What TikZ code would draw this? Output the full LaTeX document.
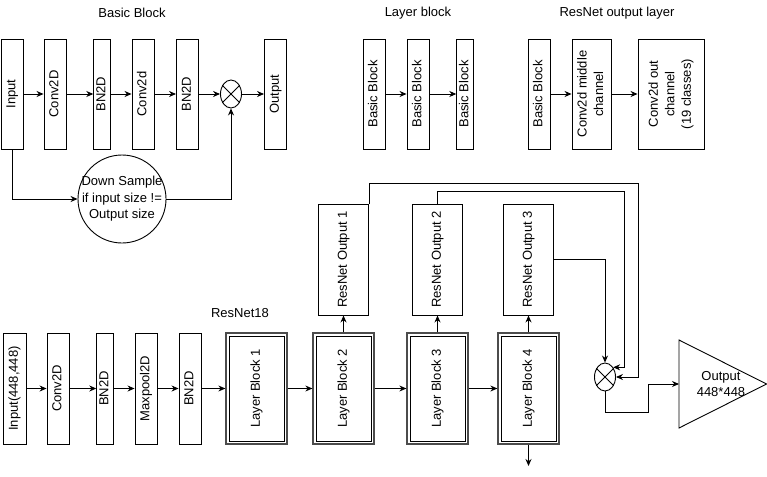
\documentclass[tikz,border=0pt]{standalone}
\usepackage{fontspec}
\setmainfont{Liberation Sans}
\usetikzlibrary{arrows.meta,shapes.geometric}
\newcommand\vtext[1]{\rotatebox{90}{\begin{tabular}{@{}c@{}}#1\end{tabular}}}
\begin{document}
\begin{tikzpicture}[x=1pt,y=-1pt,
 font=\fontsize{13}{16.5}\selectfont,
 box/.style={draw, line width=0.9pt, inner sep=0pt, minimum height=110pt},
 dbox/.style={draw=black!70, line width=1.3pt, inner sep=0pt, minimum width=61pt, minimum height=111pt,
   path picture={\draw[black, line width=0.9pt] ([shift={(3pt,-3pt)}]path picture bounding box.north west) rectangle ([shift={(-3pt,3pt)}]path picture bounding box.south east);}},
 arr/.style={-{Stealth[length=7pt,width=6pt]}, line width=0.9pt},
 ln/.style={line width=0.9pt},
 xmul/.style={draw, ellipse, line width=0.9pt, minimum width=21pt, minimum height=28pt, inner sep=0pt},
 ttl/.style={inner sep=0pt}
]
\useasboundingbox (0,0) rectangle (767,476);

% ---------- Basic Block ----------
\node[ttl] (tb) at (132,13) {Basic Block};
\node[box, minimum width=22pt] (bin) at (12,94) {\vtext{Input}};
\node[box, minimum width=22pt] (bc1) at (55,94) {\vtext{Conv2D}};
\node[box, minimum width=16pt] (bb1) at (102,94) {\vtext{BN2D}};
\node[box, minimum width=22pt] (bc2) at (143,94) {\vtext{Conv2d}};
\node[box, minimum width=22pt] (bb2) at (187.5,94) {\vtext{BN2D}};
\node[xmul] (x1) at (231,94) {};
\draw[ln] (x1.45) -- (x1.225) (x1.135) -- (x1.315);
\node[box, minimum width=22pt] (bout) at (275.5,94) {\vtext{Output}};
\node[draw, circle, line width=0.9pt, minimum size=88pt, inner sep=0pt] (ds) at (122,199) {};
\node[align=center, inner sep=0pt] (dst) at (ds) {Down Sample\\if input size !=\\Output size};

\draw[arr] (bin) -- (bc1);
\draw[arr] (bc1) -- (bb1);
\draw[arr] (bb1) -- (bc2);
\draw[arr] (bc2) -- (bb2);
\draw[arr] (bb2) -- (x1);
\draw[arr] (x1) -- (bout);
\draw[arr] (bin.south) |- (ds.west);
\draw[arr] (ds.east) -| (x1.south);

% ---------- Layer block ----------
\node[ttl] (tl) at (418,13) {Layer block};
\node[box, minimum width=22pt] (l1) at (374,94) {\vtext{Basic Block}};
\node[box, minimum width=22pt] (l2) at (418,94) {\vtext{Basic Block}};
\node[box, minimum width=16pt] (l3) at (465,94) {\vtext{Basic Block}};
\draw[arr] (l1) -- (l2);
\draw[arr] (l2) -- (l3);

% ---------- ResNet output layer ----------
\node[ttl] (to) at (617,13) {ResNet output layer};
\node[box, minimum width=22pt] (o1) at (539,94) {\vtext{Basic Block}};
\node[box, minimum width=39pt] (o2) at (591.5,94) {\vtext{Conv2d middle\\channel}};
\node[box, minimum width=66pt] (o3) at (671,94) {\vtext{Conv2d out\\channel\\(19 classes)}};
\draw[arr] (o1) -- (o2);
\draw[arr] (o2) -- (o3);

% ---------- ResNet18 ----------
\node[ttl] (tr) at (240,313) {ResNet18};
\node[box, minimum width=23pt, minimum height=111pt] (r0) at (14.5,388.5) {\vtext{Input(448,448)}};
\node[box, minimum width=22pt, minimum height=111pt] (r1) at (58,388.5) {\vtext{Conv2D}};
\node[box, minimum width=16pt, minimum height=111pt] (r2) at (105,388.5) {\vtext{BN2D}};
\node[box, minimum width=22pt, minimum height=111pt] (r3) at (146,388.5) {\vtext{Maxpool2D}};
\node[box, minimum width=22pt, minimum height=111pt] (r4) at (190,388.5) {\vtext{BN2D}};
\node[dbox] (lb1) at (256.5,388.5) {\vtext{Layer Block 1}};
\node[dbox] (lb2) at (343.5,388.5) {\vtext{Layer Block 2}};
\node[dbox] (lb3) at (437.5,388.5) {\vtext{Layer Block 3}};
\node[dbox] (lb4) at (528.5,388.5) {\vtext{Layer Block 4}};
\node[box, minimum width=50pt, minimum height=111pt] (ro1) at (343.5,259.5) {\vtext{ResNet Output 1}};
\node[box, minimum width=50pt, minimum height=111pt] (ro2) at (437.5,259.5) {\vtext{ResNet Output 2}};
\node[box, minimum width=50pt, minimum height=111pt] (ro3) at (528.5,259.5) {\vtext{ResNet Output 3}};
\node[xmul] (x2) at (605,377) {};
\draw[ln] (x2.45) -- (x2.225) (x2.135) -- (x2.315);

\draw[arr] (r0) -- (r1);
\draw[arr] (r1) -- (r2);
\draw[arr] (r2) -- (r3);
\draw[arr] (r3) -- (r4);
\draw[arr] (r4) -- (lb1);
\draw[arr] (lb1) -- (lb2);
\draw[arr] (lb2) -- (lb3);
\draw[arr] (lb3) -- (lb4);
\draw[arr] (lb2) -- (ro1);
\draw[arr] (lb3) -- (ro2);
\draw[arr] (lb4) -- (ro3);
\coordinate (dn) at (528.5,466);
\draw[arr] (lb4) -- (dn);

\coordinate (k1) at (638,183);
\coordinate (k2) at (624,191);
\coordinate (k3) at (648,412);
\coordinate (triw) at (679,384);
\draw[arr] (ro1.north east) |- (k1) |- (x2.east);
\draw[arr] (ro2.north) |- (k2) |- (x2.50);
\draw[arr] (ro3.east) -| (x2.north);
\draw[ln] (679,340) -- (766.5,384) -- (679,428) -- cycle;
\node[align=center, inner sep=0pt] (otxt) at (721,384) {Output\\448*448};
\draw[arr] (x2.south) |- (k3) |- (triw);
\end{tikzpicture}
\end{document}
